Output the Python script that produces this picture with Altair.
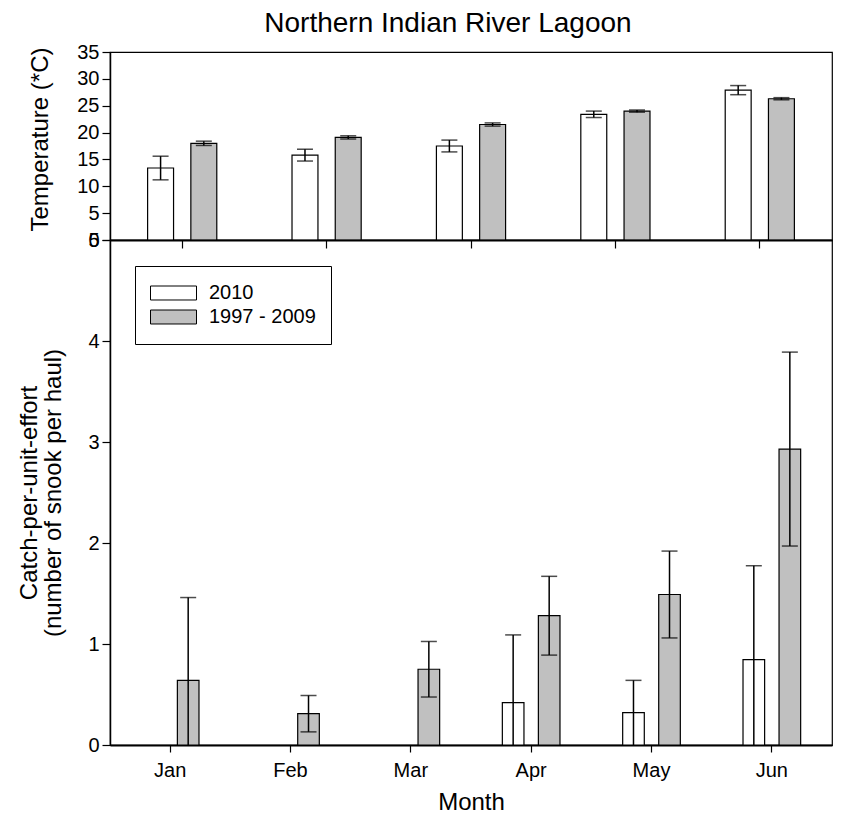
import altair as alt
import pandas as pd

# ---------------- data ----------------
series = ["2010", "1997 - 2009"]
fills = ["white", "#c0c0c0"]

temp_months = ["Jan", "Feb", "Mar", "Apr", "May"]
temp_2010 = [13.4, 15.8, 17.5, 23.4, 27.9]
temp_2010_err = [2.2, 1.1, 1.1, 0.6, 0.85]
temp_hist = [18.0, 19.1, 21.5, 24.0, 26.3]
temp_hist_err = [0.4, 0.3, 0.3, 0.2, 0.2]

cpue_months = ["Jan", "Feb", "Mar", "Apr", "May", "Jun"]
cpue_2010 = [0, 0, 0, 0.42, 0.32, 0.845]
cpue_2010_err = [0, 0, 0, 0.67, 0.32, 0.93]
cpue_hist = [0.64, 0.31, 0.75, 1.28, 1.49, 2.93]
cpue_hist_err = [0.82, 0.18, 0.275, 0.39, 0.43, 0.96]

temp_ticks = [0, 5, 10, 15, 20, 25, 30, 35]
cpue_ticks = [0, 1, 2, 3, 4, 5]


def build(months, a, ae, b, be):
    rows = []
    for m, v, e in zip(months, a, ae):
        rows.append({"month": m, "series": series[0], "value": v, "err": e})
    for m, v, e in zip(months, b, be):
        rows.append({"month": m, "series": series[1], "value": v, "err": e})
    df = pd.DataFrame(rows)
    df["lo"] = (df["value"] - df["err"]).clip(lower=0)
    df["hi"] = df["value"] + df["err"]
    df["has_lo"] = (df["value"] - df["err"]) > 0
    return df


temp_df = build(temp_months, temp_2010, temp_2010_err, temp_hist, temp_hist_err)
cpue_df = build(cpue_months, cpue_2010, cpue_2010_err, cpue_hist, cpue_hist_err)

FONT = "Liberation Sans"
W = 722


def panel(df, months, ytitle, yticks, ydomain, height, xaxis, legend, title_y=None, title_pad=22):
    xenc = alt.X("month:N", sort=months, scale=alt.Scale(paddingInner=0, paddingOuter=0), axis=xaxis)
    xoff = alt.XOffset("series:N", sort=series,
                       scale=alt.Scale(paddingInner=0.4, paddingOuter=0.87))
    ax_kwargs = dict(values=yticks, title=ytitle, tickSize=8, labelPadding=3,
                     titlePadding=title_pad, grid=False, titleLineHeight=24)
    if title_y is not None:
        ax_kwargs["titleY"] = title_y
    yaxis = alt.Axis(**ax_kwargs)
    yscale = alt.Scale(domain=ydomain, nice=False, zero=True)

    base = alt.Chart(df).encode(x=xenc, xOffset=xoff)
    bars = base.transform_filter("datum.value > 0").mark_bar(
        stroke="black", strokeWidth=1.2).encode(
        y=alt.Y("value:Q", scale=yscale, axis=yaxis),
        fill=alt.Fill("series:N", sort=series,
                      scale=alt.Scale(domain=series, range=fills), legend=legend),
    )
    err = base.transform_filter("datum.err > 0")
    rules = err.mark_rule(color="black", strokeWidth=1.5).encode(
        y=alt.Y("lo:Q", scale=yscale, axis=yaxis), y2="hi:Q"
    )
    caps_hi = err.mark_tick(color="black", size=16, thickness=1.5).encode(
        y=alt.Y("hi:Q", scale=yscale, axis=yaxis)
    )
    caps_lo = err.transform_filter("datum.has_lo").mark_tick(
        color="black", size=16, thickness=1.5).encode(
        y=alt.Y("lo:Q", scale=yscale, axis=yaxis)
    )
    return alt.layer(bars, rules, caps_hi, caps_lo).properties(width=W, height=height)


top = panel(
    temp_df, temp_months, "Temperature (*C)", temp_ticks, [0, 35], 188,
    alt.Axis(labels=False, title=None, tickSize=8, domainWidth=2),
    None, title_y=87, title_pad=24,
)

legend = alt.Legend(
    title=None, orient="none", legendX=25, legendY=26,
    symbolType="M-1,-0.3043H1V0.3043H-1Z", symbolSize=2116,
    symbolStrokeColor="black", symbolStrokeWidth=1,
    labelFontSize=20, labelFont=FONT, labelColor="black", labelOffset=12,
    strokeColor="black", fillColor="white", padding=15, rowPadding=0, clipHeight=24,
)

bottom = panel(
    cpue_df, cpue_months,
    ["Catch-per-unit-effort", "(number of snook per haul)"], cpue_ticks, [0, 5], 505,
    alt.Axis(title="Month", tickSize=7, labelPadding=8, titlePadding=10, labelAngle=0,
             domainWidth=2),
    legend, title_pad=22,
)

chart = alt.vconcat(top, bottom, spacing=0, bounds="flush").resolve_scale(
    fill="independent", x="independent", xOffset="independent", y="independent"
).properties(
    title=alt.TitleParams("Northern Indian River Lagoon", fontSize=28, font=FONT,
                          fontWeight="normal", color="black", anchor="middle",
                          offset=3, dx=23),
    padding={"left": 9, "top": 2, "right": 1, "bottom": 0},
).configure_axis(
    labelFont=FONT, titleFont=FONT, labelFontSize=20, titleFontSize=24,
    labelColor="black", titleColor="black", titleFontWeight="normal",
    domainColor="black", tickColor="black", domainWidth=1.5, tickWidth=1.2,
).configure_view(
    stroke="black", strokeWidth=1.2,
)

chart.save("out.html", embed_options={"renderer": "svg", "actions": False})
